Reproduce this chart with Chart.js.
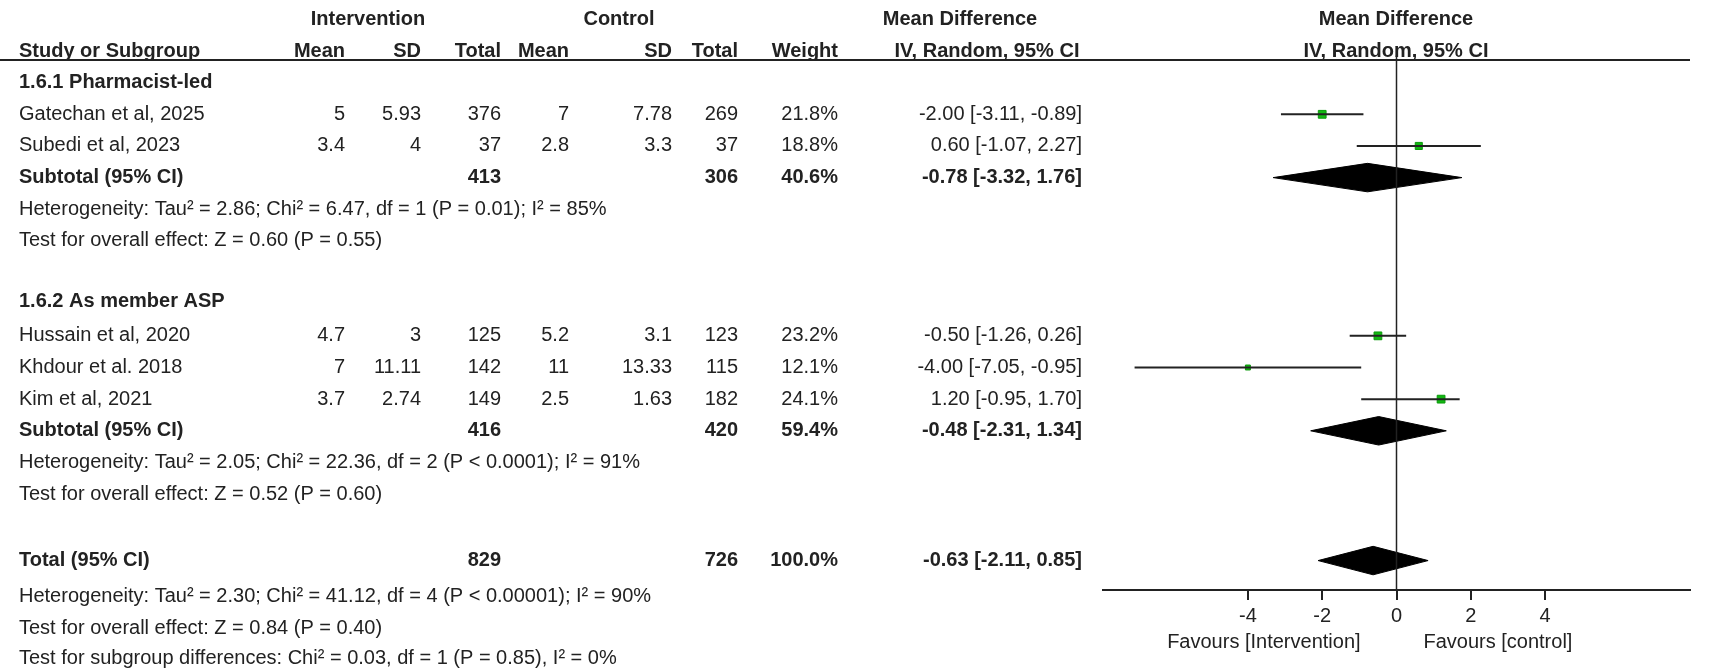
<!DOCTYPE html>
<html>
<head>
<meta charset="utf-8">
<script src="https://cdn.jsdelivr.net/npm/chart.js@4"></script>
<style>
  html, body { margin: 0; padding: 0; background: #fff; }
  #wrap { width: 1712px; height: 669px; }
</style>
</head>
<body>
<div id="wrap"><canvas id="forest"></canvas></div>
<script>
// studies
var studies = ["Gatechan et al, 2025", "Subedi et al, 2023", "Hussain et al, 2020", "Khdour et al. 2018", "Kim et al, 2021"];
var studyRows = [0, 1, 7, 8, 9];
var intMean = ["5", "3.4", "4.7", "7", "3.7"];
var intSD = ["5.93", "4", "3", "11.11", "2.74"];
var intN = ["376", "37", "125", "142", "149"];
var ctlMean = ["7", "2.8", "5.2", "11", "2.5"];
var ctlSD = ["7.78", "3.3", "3.1", "13.33", "1.63"];
var ctlN = ["269", "37", "123", "115", "182"];
var weights = ["21.8%", "18.8%", "23.2%", "12.1%", "24.1%"];
var md = [-2.00, 0.60, -0.50, -4.00, 1.20];
var lo = [-3.11, -1.07, -1.26, -7.05, -0.95];
var hi = [-0.89, 2.27, 0.26, -0.95, 1.70];
var boxSize = [5.5, 5, 5.5, 3.5, 5.5];

// pooled
var poolLabels = ["Subtotal (95% CI)", "Subtotal (95% CI)", "Total (95% CI)"];
var poolRows = [2, 10, 14.1];
var poolIntN = ["413", "416", "829"];
var poolCtlN = ["306", "420", "726"];
var poolWeight = ["40.6%", "59.4%", "100.0%"];
var poolMd = [-0.78, -0.48, -0.63];
var poolLo = [-3.32, -2.31, -2.11];
var poolHi = [1.76, 1.34, 0.85];

var headings = ["1.6.1 Pharmacist-led", "1.6.2 As member ASP"];
var headingRows = [-1, 5.9];
var notes = [
  "Heterogeneity: Tau\u00b2 = 2.86; Chi\u00b2 = 6.47, df = 1 (P = 0.01); I\u00b2 = 85%",
  "Test for overall effect: Z = 0.60 (P = 0.55)",
  "Heterogeneity: Tau\u00b2 = 2.05; Chi\u00b2 = 22.36, df = 2 (P < 0.0001); I\u00b2 = 91%",
  "Test for overall effect: Z = 0.52 (P = 0.60)",
  "Heterogeneity: Tau\u00b2 = 2.30; Chi\u00b2 = 41.12, df = 4 (P < 0.00001); I\u00b2 = 90%",
  "Test for overall effect: Z = 0.84 (P = 0.40)",
  "Test for subgroup differences: Chi\u00b2 = 0.03, df = 1 (P = 0.85), I\u00b2 = 0%"
];
var noteRows = [3, 4, 11, 12, 15.25, 16.25, 17.2];
var xTicks = [-4, -2, 0, 2, 4];

function ci(m, l, h) {
  return m.toFixed(2) + " [" + l.toFixed(2) + ", " + h.toFixed(2) + "]";
}

var FONT = '"Liberation Sans", Arial, sans-serif';
var datasets = [];

// zero line
datasets.push({ data: [{x: 0, y: -1.85}, {x: 0, y: 15.03}], borderColor: "#222", borderWidth: 1.5, pointRadius: 0, showLine: true });

// CI whiskers
for (var i = 0; i < studies.length; i++) {
  datasets.push({ data: [{x: lo[i], y: studyRows[i]}, {x: hi[i], y: studyRows[i]}], borderColor: "#222", borderWidth: 2, pointRadius: 0, showLine: true });
}
// squares
datasets.push({
  data: md.map(function (v, i) { return {x: v, y: studyRows[i]}; }),
  pointStyle: "rect", pointRadius: boxSize, backgroundColor: "#12b812", borderColor: "#0a9a0a", borderWidth: 1, showLine: false
});
// diamonds
for (var j = 0; j < poolMd.length; j++) {
  var r = poolRows[j], hh = 0.45;
  datasets.push({
    data: [{x: poolLo[j], y: r}, {x: poolMd[j], y: r - hh}, {x: poolHi[j], y: r}, {x: poolMd[j], y: r + hh}, {x: poolLo[j], y: r}],
    borderColor: "#000", backgroundColor: "#000", borderWidth: 1, pointRadius: 0, showLine: true, fill: "shape", tension: 0
  });
}

var textPlugin = {
  id: "forestText",
  afterDraw: function (chart) {
    var ctx = chart.ctx;
    var y = chart.scales.y, x = chart.scales.x;
    function put(t, px, row, align, bold) {
      ctx.font = (bold ? "bold " : "") + "20px " + FONT;
      ctx.textAlign = align;
      ctx.fillText(t, px, y.getPixelForValue(row));
    }
    ctx.save();
    ctx.fillStyle = "#222";
    ctx.textBaseline = "middle";
    // headers
    put("Intervention", 368, -3, "center", true);
    put("Control", 619, -3, "center", true);
    put("Mean Difference", 960, -3, "center", true);
    put("Mean Difference", 1396, -3, "center", true);
    put("Study or Subgroup", 19, -2, "left", true);
    var hdr = ["Mean", "SD", "Total", "Mean", "SD", "Total", "Weight"];
    var cols = [345, 421, 501, 569, 672, 738, 838];
    hdr.forEach(function (h, k) { put(h, cols[k], -2, "right", true); });
    put("IV, Random, 95% CI", 987, -2, "center", true);
    put("IV, Random, 95% CI", 1396, -2, "center", true);
    ctx.strokeStyle = "#222";
    ctx.lineWidth = 2;
    ctx.beginPath();
    ctx.moveTo(0, 60); ctx.lineTo(1690, 60);
    ctx.stroke();

    headings.forEach(function (h, k) { put(h, 19, headingRows[k], "left", true); });
    for (var i = 0; i < studies.length; i++) {
      var rr = studyRows[i];
      put(studies[i], 19, rr, "left");
      [intMean[i], intSD[i], intN[i], ctlMean[i], ctlSD[i], ctlN[i], weights[i]].forEach(function (v, k) {
        put(v, cols[k], rr, "right");
      });
      put(ci(md[i], lo[i], hi[i]), 1082, rr, "right");
    }
    for (var j = 0; j < poolLabels.length; j++) {
      var pr = poolRows[j];
      put(poolLabels[j], 19, pr, "left", true);
      put(poolIntN[j], cols[2], pr, "right", true);
      put(poolCtlN[j], cols[5], pr, "right", true);
      put(poolWeight[j], cols[6], pr, "right", true);
      put(ci(poolMd[j], poolLo[j], poolHi[j]), 1082, pr, "right", true);
    }
    notes.forEach(function (n, k) { put(n, 19, noteRows[k], "left"); });

    ctx.font = "20px " + FONT;
    ctx.textAlign = "center";
    ctx.fillText("Favours [Intervention]", x.getPixelForValue(-3.57), 642);
    ctx.fillText("Favours [control]", x.getPixelForValue(2.73), 642);
    ctx.restore();
  }
};

new Chart("forest", {
  type: "scatter",
  data: { datasets: datasets },
  plugins: [textPlugin],
  options: {
    responsive: true,
    maintainAspectRatio: false,
    animation: false,
    layout: { padding: { left: 1103, right: 22, top: 0, bottom: 0 } },
    plugins: { legend: { display: false }, tooltip: { enabled: false } },
    scales: {
      x: {
        type: "linear", min: -7.9, max: 7.9,
        afterBuildTicks: function (axis) { axis.ticks = xTicks.map(function (v) { return {value: v}; }); },
        grid: { display: true, drawOnChartArea: false, drawTicks: true, tickLength: 10, color: "#222", lineWidth: 2 },
        border: { display: true, color: "#222", width: 2 },
        ticks: { color: "#222", font: { size: 20, family: FONT }, padding: 4, autoSkip: false, maxRotation: 0 },
        afterFit: function (axis) { axis.height = 79; }
      },
      y: {
        type: "linear", min: -3.406, max: 15.03, reverse: true, display: false
      }
    }
  }
});
</script>
</body>
</html>
